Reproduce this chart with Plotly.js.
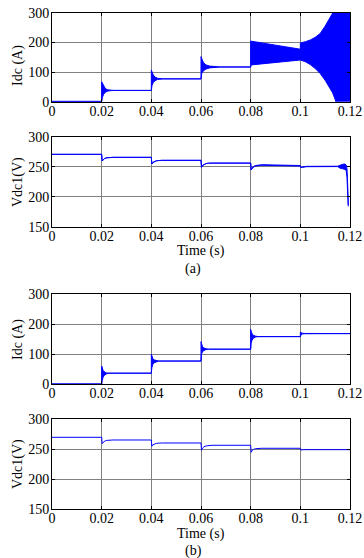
<!DOCTYPE html>
<html>
<head>
<meta charset="utf-8">
<script src="https://cdn.plot.ly/plotly-3.0.1.min.js"></script>
<style>html,body{margin:0;padding:0;background:#fff;}#chart{width:364px;height:558px;}</style>
</head>
<body>
<div id="chart"></div>
<script>
// ---- tick labels ----
const X_TICKS = [0, 0.02, 0.04, 0.06, 0.08, 0.1, 0.12];
const X_TICK_LABELS = ['0', '0.02', '0.04', '0.06', '0.08', '0.1', '0.12'];
const I_TICKS = [0, 100, 200, 300];
const V_TICKS = [150, 200, 250, 300];

// ---- (a) Idc envelope (upper / lower of oscillation band) ----
const T_IDC_A = [0, 0.02, 0.02, 0.0203, 0.0208, 0.0215, 0.0225, 0.024, 0.025,
  0.04, 0.04, 0.0403, 0.0408, 0.0415, 0.0425, 0.044, 0.045,
  0.06, 0.06, 0.0603, 0.061, 0.062, 0.0635, 0.065, 0.067, 0.068,
  0.08, 0.08, 0.0802,
  0.1, 0.1, 0.102, 0.104, 0.106, 0.108, 0.11, 0.112, 0.113, 0.114, 0.115, 0.12];
const IDC_A_UP = [1, 1, 67, 62, 52, 44, 40, 38.5, 38,
  38, 107, 100, 90, 83, 79, 77.5, 77,
  77, 152, 145, 132, 124, 120, 118.5, 117.5, 117,
  117, 205, 204,
  177, 198, 202, 208, 217, 230, 255, 287, 305, 322, 340, 400];
const IDC_A_LO = [1, 1, 1, 15, 25, 32, 36, 37.5, 38,
  38, 38, 56, 65, 71, 75, 76.5, 77,
  77, 77, 96, 104, 110, 114, 116, 116.5, 117,
  117, 117, 124,
  140.5, 140.5, 135, 125, 112, 95, 72, 45, 30, 8, -20, -50];

// ---- (a) Vdc1 ----
const T_VDC_A = [0, 0.02, 0.0202, 0.0206, 0.0212, 0.022, 0.023, 0.0245,
  0.04, 0.0402, 0.0406, 0.0412, 0.042, 0.043, 0.0445,
  0.06, 0.0602, 0.0606, 0.0612, 0.062, 0.063, 0.0645,
  0.08, 0.0802, 0.0806, 0.0812, 0.082, 0.083, 0.0845,
  0.1, 0.1002, 0.1008, 0.1015, 0.1025,
  0.115, 0.116, 0.117, 0.118, 0.1185, 0.1188, 0.119, 0.1192, 0.1193];
const VDC_A_UP = [270.6, 270.6, 259.5, 262, 263.8, 264.8, 265.3, 265.6,
  265.6, 254.5, 257, 258.8, 259.8, 260.3, 260.6,
  260.6, 249, 252, 254, 255.2, 255.8, 256,
  256, 244.5, 248, 250.5, 252, 252.8, 253.3,
  252, 248.5, 249.5, 250, 250.6,
  250.8, 253, 254, 254.5, 252.5, 246, 232, 205, 186];
const VDC_A_LO = [270.6, 270.6, 259.5, 262, 263.8, 264.8, 265.3, 265.6,
  265.6, 254.5, 257, 258.8, 259.8, 260.3, 260.6,
  260.6, 249, 252, 254, 255.2, 255.8, 256,
  256, 244.5, 247, 249.5, 251, 251.8, 252.3,
  251, 248.5, 249, 249.6, 250,
  250.2, 247.5, 246.5, 245.5, 243, 232, 210, 192, 184];

// ---- (b) Idc envelope ----
const T_IDC_B = [0, 0.02, 0.02, 0.0202, 0.0206, 0.0212, 0.022, 0.023,
  0.04, 0.04, 0.0402, 0.0406, 0.0412, 0.042, 0.043,
  0.06, 0.06, 0.0602, 0.0606, 0.0612, 0.062, 0.063,
  0.08, 0.08, 0.0802, 0.0806, 0.0812, 0.082, 0.083,
  0.1, 0.1, 0.1003, 0.1008, 0.1015, 0.12];
const IDC_B_UP = [1, 1, 61, 55, 46, 41, 38, 37,
  37, 100, 94, 86, 81, 79, 77.5,
  77.5, 142, 136, 126, 121, 118.5, 117,
  117, 183, 177, 168, 163, 160.5, 159,
  159, 173, 172, 170.5, 169.5, 169];
const IDC_B_LO = [1, 1, 1, 12, 24, 31, 35, 37,
  37, 37, 55, 66, 72, 75.5, 77.5,
  77.5, 77.5, 101, 108, 113, 115.5, 117,
  117, 117, 138, 148, 154, 157.5, 159,
  159, 159, 165, 167.5, 168.5, 169];

// ---- (b) Vdc1 ----
const T_VDC_B = [0, 0.02, 0.0202, 0.0206, 0.0212, 0.022, 0.023, 0.0245,
  0.04, 0.0402, 0.0406, 0.0412, 0.042, 0.043, 0.0445,
  0.06, 0.0602, 0.0606, 0.0612, 0.062, 0.063, 0.0645,
  0.08, 0.0802, 0.0806, 0.0812, 0.082, 0.083, 0.0845,
  0.1, 0.1002, 0.1008, 0.1015, 0.12];
const VDC_B = [270, 270, 259.4, 262, 263.8, 264.8, 265.3, 265.5,
  265.5, 255, 257.5, 259, 259.9, 260.3, 260.5,
  260.5, 248.3, 252, 254.3, 255.6, 256.3, 256.7,
  256.7, 245, 248, 250, 251, 251.5, 251.7,
  251.7, 248.8, 249.2, 249.4, 249.4];

// ---- text ----
const Y_TITLES = ['Idc (A)', 'Vdc1(V)', 'Idc (A)', 'Vdc1(V)'];
const X_TITLE = 'Time (s)';
const PANEL_LABELS = ['(a)', '(b)'];

const BLUE = '#0000ff';
function band(t, lo, up, xa, ya) {
  return [
    {x: t, y: lo, xaxis: xa, yaxis: ya, type: 'scatter', mode: 'lines',
     line: {color: BLUE, width: 1}, hoverinfo: 'skip'},
    {x: t, y: up, xaxis: xa, yaxis: ya, type: 'scatter', mode: 'lines',
     line: {color: BLUE, width: 1}, fill: 'tonexty', fillcolor: BLUE, hoverinfo: 'skip'}
  ];
}

const data = [].concat(
  band(T_IDC_A, IDC_A_LO, IDC_A_UP, 'x', 'y'),
  band(T_VDC_A, VDC_A_LO, VDC_A_UP, 'x2', 'y2'),
  band(T_IDC_B, IDC_B_LO, IDC_B_UP, 'x3', 'y3'),
  [{x: T_VDC_B, y: VDC_B, xaxis: 'x4', yaxis: 'y4', type: 'scatter', mode: 'lines',
    line: {color: BLUE, width: 1}, hoverinfo: 'skip'}]
);

const W = 364, H = 558;
const XD = [52 / W, 350 / W];
function yd(top, bottom) { return [1 - bottom / H, 1 - top / H]; }
const FONT = '"Liberation Serif", "Times New Roman", Times, serif';
const TXT = {family: FONT, size: 14, color: '#000'};

function xax(anchor) {
  return {
    domain: XD, anchor: anchor, range: [0, 0.12],
    tickmode: 'array', tickvals: X_TICKS, ticktext: X_TICK_LABELS,
    ticks: 'inside', ticklen: 3, tickcolor: '#000', ticklabelstandoff: -4,
    showline: true, linecolor: '#000', linewidth: 1, mirror: 'allticks',
    showgrid: true, gridcolor: '#808080', gridwidth: 1, zeroline: false,
    tickfont: TXT, automargin: false, fixedrange: true
  };
}
function yax(anchor, dom, range, tv) {
  return {
    domain: dom, anchor: anchor, range: range,
    tickmode: 'array', tickvals: tv,
    ticks: 'inside', ticklen: 3, tickcolor: '#000', ticklabelstandoff: -1,
    showline: true, linecolor: '#000', linewidth: 1, mirror: 'allticks',
    showgrid: true, gridcolor: '#808080', gridwidth: 1, zeroline: false,
    tickfont: TXT, automargin: false, fixedrange: true
  };
}

function ann(text, px, py, angle) {
  return {text: text, xref: 'paper', yref: 'paper', x: px / W, y: 1 - py / H,
    showarrow: false, xanchor: 'center', yanchor: 'middle', textangle: angle || 0,
    font: TXT};
}

const layout = {
  width: W, height: H,
  margin: {l: 0, r: 0, t: 0, b: 0},
  paper_bgcolor: '#fff', plot_bgcolor: '#fff',
  showlegend: false,
  font: TXT,
  xaxis: xax('y'),
  yaxis: yax('x', yd(12.7, 101.7), [0, 300], I_TICKS),
  xaxis2: xax('y2'),
  yaxis2: yax('x2', yd(136.7, 226.7), [150, 300], V_TICKS),
  xaxis3: xax('y3'),
  yaxis3: yax('x3', yd(294.3, 384.3), [0, 300], I_TICKS),
  xaxis4: xax('y4'),
  yaxis4: yax('x4', yd(419.3, 509.3), [150, 300], V_TICKS),
  annotations: [
    ann(Y_TITLES[0], 18, 66, -90),
    ann(Y_TITLES[1], 18, 182, -90),
    ann(Y_TITLES[2], 18, 340, -90),
    ann(Y_TITLES[3], 18, 464, -90),
    ann(X_TITLE, 201, 251),
    ann(X_TITLE, 201, 534),
    ann(PANEL_LABELS[0], 193, 268.5),
    ann(PANEL_LABELS[1], 193, 550.5)
  ]
};

Plotly.newPlot('chart', data, layout, {staticPlot: true, displayModeBar: false});
</script>
</body>
</html>
